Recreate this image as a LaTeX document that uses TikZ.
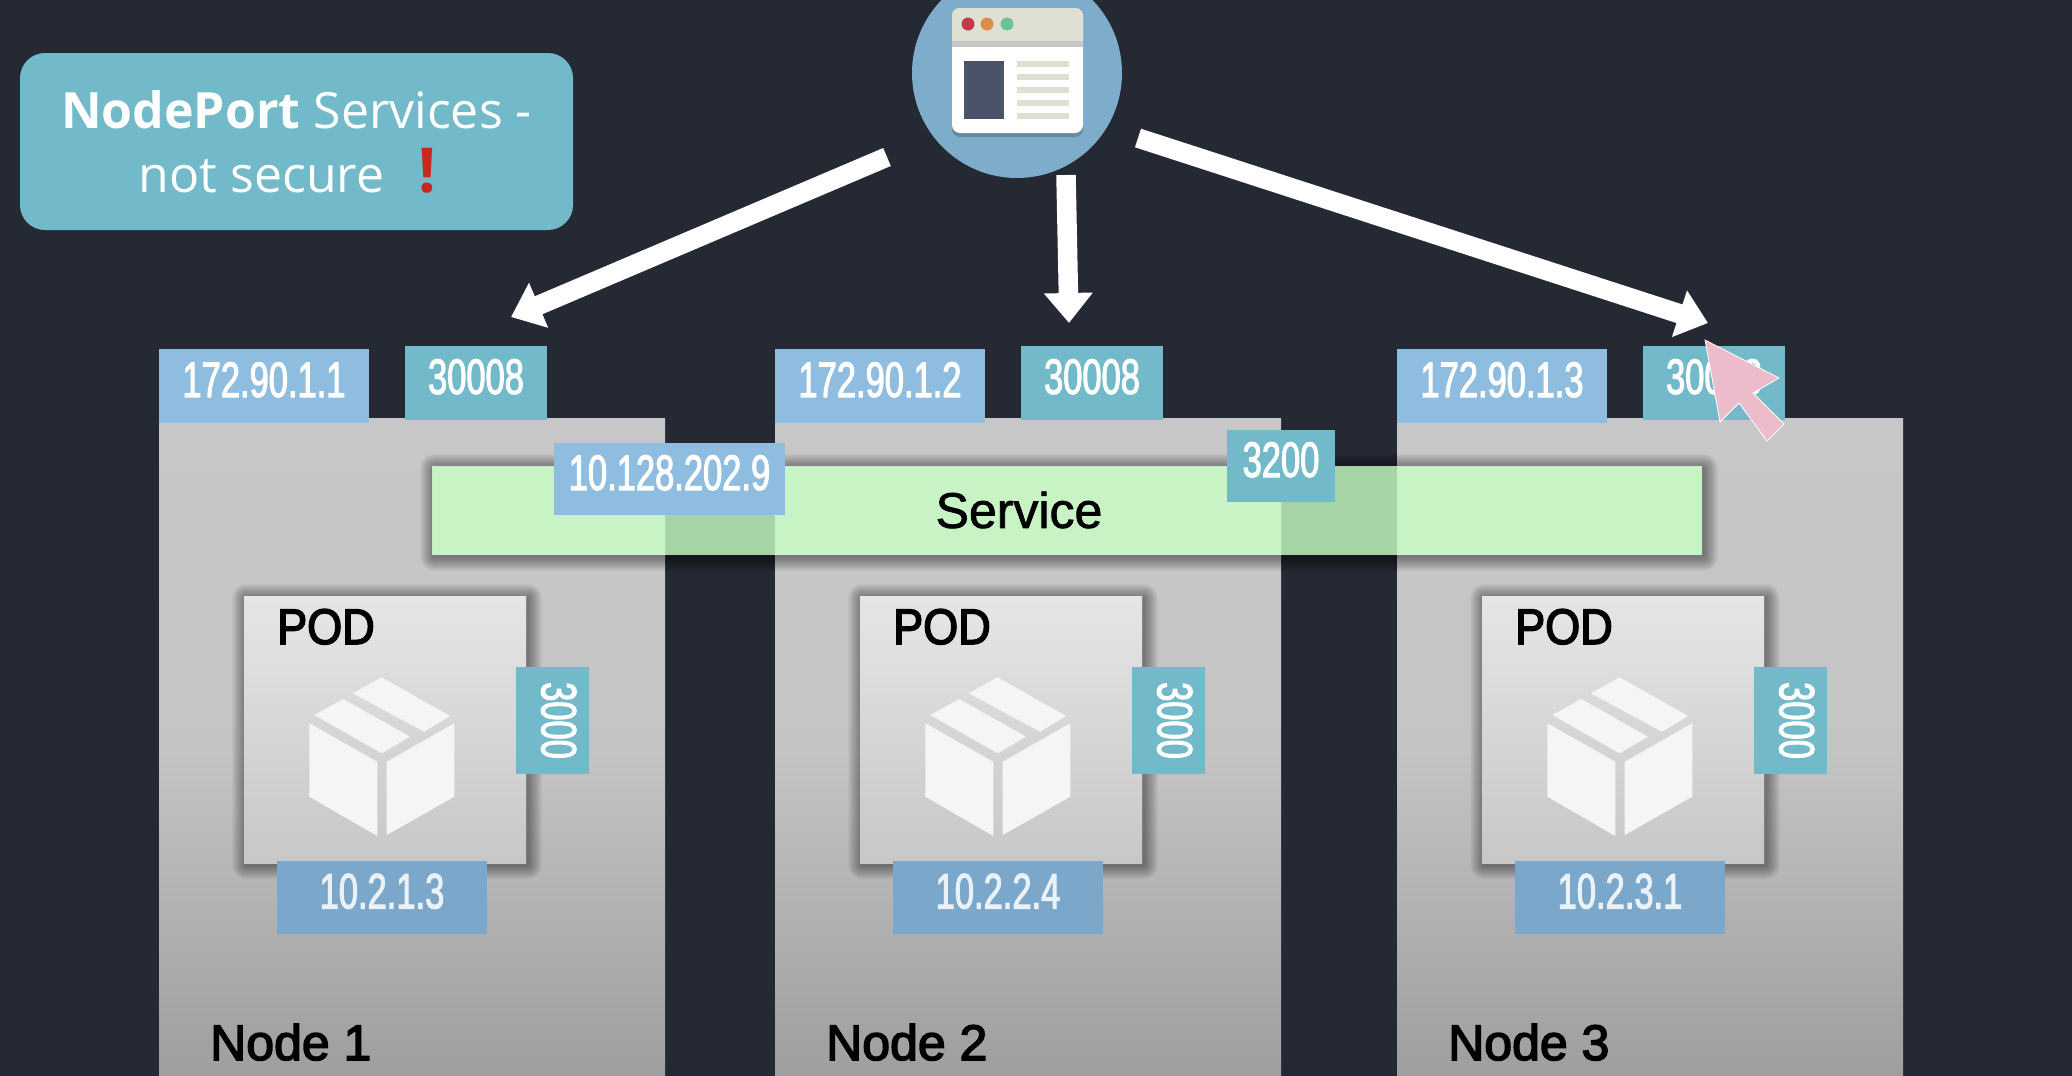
\documentclass[tikz,border=0pt]{standalone}
\usepackage{fontspec}
\setmainfont{Open Sans}
\newfontfamily\condfont[FakeStretch=0.69,FakeBold=2]{Liberation Sans}
\newfontfamily\podfont[FakeStretch=0.9,FakeBold=3]{Liberation Sans}
\newfontfamily\namefont[FakeBold=3]{Liberation Sans}
\newfontfamily\servicefont[FakeBold=1.5]{Liberation Sans}
\usetikzlibrary{arrows.meta}

\definecolor{bgdark}{HTML}{242933}
\definecolor{teal}{HTML}{72BAC9}
\definecolor{ipblue}{HTML}{8FBDE0}
\definecolor{podblue}{HTML}{7BA7CB}
\definecolor{iconblue}{HTML}{7EADCB}
\definecolor{bargrey}{HTML}{E0E0D2}
\definecolor{servicegreen}{HTML}{C8FFC5}
\definecolor{cursorpink}{HTML}{ECBCCB}
\definecolor{dotred}{HTML}{C23A4A}
\definecolor{dotorange}{HTML}{DD8C4A}
\definecolor{dotgreen}{HTML}{6CC39B}
\definecolor{panelslate}{HTML}{4A5368}
\definecolor{markred}{HTML}{C8281E}

\tikzset{
	ipbox/.style={fill=ipblue, text=white, inner sep=0pt, minimum width=210pt, minimum height=74pt,
		text height=37pt, text depth=15pt, font=\condfont\fontsize{50}{50}\selectfont},
	portbox/.style={ipbox, fill=teal, minimum width=142pt},
	podipbox/.style={ipbox, fill=podblue, text=white!85!podblue, minimum height=73pt},
	nodebox/.style={top color=white!78!black, bottom color=white!62!black, middle color=white!77!black},
	podbox/.style={top color=white!90!black, bottom color=white!78!black},
	bigarrow/.style={-{Triangle[length=30pt,width=47pt]}, line width=19.5pt, white},
	bigtext/.style={font=\fontsize{50}{50}\selectfont, text=black, inner sep=0pt},
}

% soft shadow around a box, only outside of it
\newcommand{\softshadow}[4]{
	\foreach \s in {1,...,14}
		\fill[black, opacity=0.033, even odd rule, rounded corners=\s pt]
			(#1-\s+2,#2-\s+2) rectangle (#3+\s+2,#4+\s+2) [sharp corners] (#1,#2) rectangle (#3,#4);
}

\begin{document}
\begin{tikzpicture}[x=1pt, y=-1pt]
	\useasboundingbox (0,0) rectangle (2072,1076);
	\clip (0,0) rectangle (2072,1076);
	\fill[bgdark] (0,0) rectangle (2072,1076);

	% title
	\node[fill=teal, rounded corners=25pt, text=white, minimum width=553pt, minimum height=177pt, align=center,
		font=\fontsize{50}{64}\selectfont] (title) at (296.5,141.5)
		{\textbf{NodePort} Services -\\not secure \ \hspace{8pt}{\fontsize{62}{62}\selectfont\textcolor{markred}{\textbf{!}}}\hspace*{18pt}};

	% client with browser window
	\node[circle, fill=iconblue, minimum size=210pt, inner sep=0pt] (client) at (1017,73) {};
	\fill[black!20!iconblue, rounded corners=8pt] (952,14) rectangle (1083,137);
	\fill[white, rounded corners=8pt] (952,8) rectangle (1083,133);
	\fill[bargrey] (952,41) [rounded corners=8pt] -- (952,8) -- (1083,8) [sharp corners] -- (1083,41) -- cycle;
	\fill[white!78!black] (952,41) rectangle (1083,47);
	\fill[dotred] (968,24) circle (6.5);
	\fill[dotorange] (987,24) circle (6.5);
	\fill[dotgreen] (1007,24) circle (6.5);
	\fill[panelslate] (964,61) rectangle (1004,119);
	\foreach \y in {61,74,87,100,113}
		\fill[bargrey] (1017,\y) rectangle (1069,\y+6);

	% worker nodes
	\foreach \n/\dx/\nodeip/\podip in {1/0/172.90.1.1/10.2.1.3, 2/616/172.90.1.2/10.2.2.4, 3/1238/172.90.1.3/10.2.3.1} {
		\begin{scope}[xshift=\dx pt]
			\node[nodebox, minimum width=506pt, minimum height=658pt, anchor=north west, inner sep=0pt] (node\n) at (159,418) {};
			\node[ipbox] (nodeip\n) at (264,386) {\nodeip};
			\node[portbox] (port\n) at (476,383) {30008};

			\softshadow{244}{596}{526}{863}
			\node[podbox, minimum width=282pt, minimum height=267pt, anchor=north west, inner sep=0pt] (pod\n) at (244,596) {};
			\node[bigtext, anchor=base west] (podname\n) at (277,644) {\podfont POD};
			\fill[white!96!black] (381.7,677.3) -- (450,716) -- (424,731.7) -- (352.7,693.3) -- cycle;
			\fill[white!96!black] (343.3,699) -- (410,736.7) -- (381.7,753.3) -- (314.3,715) -- cycle;
			\fill[white!96!black] (309.3,723.3) -- (377.3,761.7) -- (377.3,836) -- (309.3,796.7) -- cycle;
			\fill[white!96!black] (386.7,761.7) -- (454.3,723.3) -- (454.3,796.7) -- (386.7,835) -- cycle;
			\node[podipbox] (podip\n) at (382,897.5) {\podip};
			\node[portbox, minimum width=107pt, minimum height=73pt, rotate=-90] (podport\n) at (552.5,720.5) {3000};
			\node[bigtext, anchor=base west] (nodename\n) at (210,1060) {\namefont Node \n};
		\end{scope}
	}

	% service across the nodes
	\softshadow{432}{466}{1702}{555}
	\node[fill=servicegreen, fill opacity=0.8, minimum width=1270pt, minimum height=89pt, inner sep=0pt] (service) at (1067,510.5) {};
	\node[bigtext] (servicename) at (1019,510) {\servicefont Service};
	\node[ipbox, minimum width=231pt, minimum height=72pt] (clusterip) at (669.5,479) {10.128.202.9};
	\node[portbox, minimum width=108pt, minimum height=72pt] (serviceport) at (1281,466) {3200};

	% requests
	\coordinate (starta) at (887,157);
	\coordinate (tipa) at (511,317);
	\coordinate (startb) at (1066,175);
	\coordinate (tipb) at (1069,323);
	\coordinate (startc) at (1138,138);
	\coordinate (tipc) at (1708,323);
	\draw[bigarrow] (starta) -- (tipa);
	\draw[bigarrow] (startb) -- (tipb);
	\draw[bigarrow] (startc) -- (tipc);

	% mouse pointer
	\fill[cursorpink, draw=white, line width=0.8pt] (1705,340) -- (1779,378) -- (1753,393) -- (1784,424) -- (1767,441) -- (1739,403) -- (1720,422) -- cycle;
\end{tikzpicture}
\end{document}
